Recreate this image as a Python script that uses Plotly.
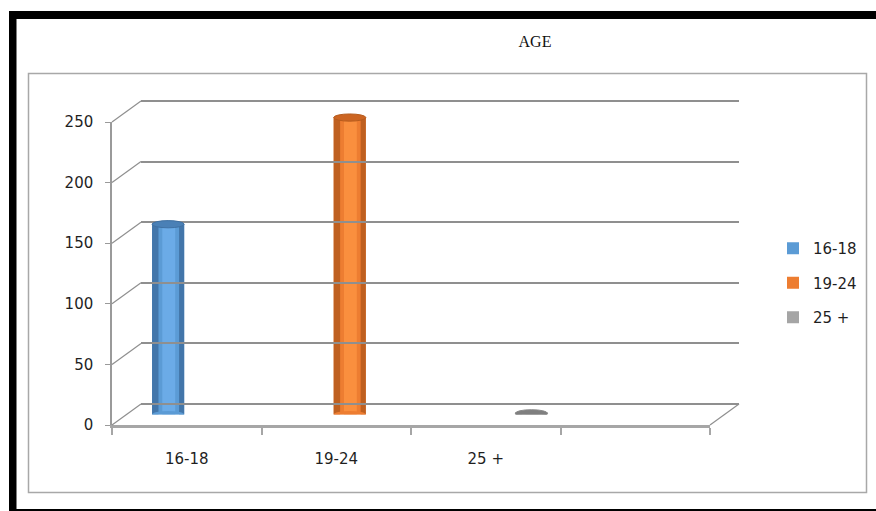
import plotly.graph_objects as go

# ---------------- data ----------------
categories = ["16-18", "19-24", "25 +"]
values = [157, 245, 1]
slot_labels = categories + [" "]          # Excel axis has one empty 4th slot
y_ticks = [0, 50, 100, 150, 200, 250]
title_text = "AGE"

bar_colors = ["#5b9bd5", "#ed7d31", "#a5a5a5"]
light_colors = ["#6eaeea", "#fb9241", "#b5b5b5"]
edge_colors = ["#3f70a2", "#b65b1d", "#8a8a8a"]
cap_colors = ["#4a80b6", "#cc6522", "#7f7f7f"]

# ---------------- geometry (pixels) ----------------
W, H = 876, 511
YMAX = 250
# front plane
X0f, X1f, Y0f, Y1f = 112, 710, 425, 122
# back wall (depth shift)
DX, DY = 29, -21
X0b, X1b, Y0b, Y1b = X0f + DX, X1f + DX, Y0f + DY, Y1f + DY
# mid plane where cylinders stand
X0m, X1m, Y0m, Y1m = X0f + DX / 2 - 1, X1f + DX / 2 - 1, Y0f + DY / 2, Y1f + DY / 2


def px(x):
    return x / W


def py(y):
    return 1 - y / H


def ymap(y0, y1):
    return lambda v: y0 - v * (y0 - y1) / YMAX


yf, yb, ym = ymap(Y0f, Y1f), ymap(Y0b, Y1b), ymap(Y0m, Y1m)
RB = [-2, YMAX + 2]   # back range padded so edge gridlines draw

fig = go.Figure()

# invisible helper trace to register the four category slots on the front axis
fig.add_trace(go.Scatter(x=slot_labels, y=[None] * len(slot_labels), mode="markers",
                         xaxis="x", yaxis="y", showlegend=False, hoverinfo="skip"))
# helper for the back wall axes
fig.add_trace(go.Scatter(x=[0, 1], y=[None, None], mode="markers", xaxis="x3", yaxis="y3",
                         showlegend=False, hoverinfo="skip"))

# each series occupies its own sub-slot of the cluster (Excel clustered layout)
SLOT = 0.645                      # fraction of a category slot used by the cluster
sub = SLOT / len(categories)
for i, (c, v) in enumerate(zip(categories, values)):
    off = -SLOT / 2 + i * sub
    fig.add_trace(go.Bar(
        x=[c], y=[v], name=c, xaxis="x2", yaxis="y2",
        width=sub, offset=off,
        marker=dict(color=bar_colors[i], line=dict(width=0)),
        legendgroup=c,
    ))
    # cylinder shading: darker rims and a light highlight band
    for w_frac, o_frac, col in [(0.2, 0.0, edge_colors[i]), (0.16, 0.84, edge_colors[i]),
                                (0.4, 0.32, light_colors[i])]:
        fig.add_trace(go.Bar(
            x=[c], y=[v], xaxis="x2", yaxis="y2", showlegend=False, hoverinfo="skip",
            width=sub * w_frac, offset=off + sub * o_frac,
            marker=dict(color=col, line=dict(width=0), opacity=0.85),
            legendgroup=c,
        ))

fig.update_layout(barmode="overlay")

# cylinder caps (ellipses) computed from the data values
cap_h = 3.6 * YMAX / (Y0m - Y1m)
shapes = []
for i, (c, v) in enumerate(zip(categories, values)):
    x0 = i - SLOT / 2 + i * sub
    x1 = x0 + sub
    shapes.append(dict(type="circle", xref="x2", yref="y2", x0=x0, x1=x1,
                       y0=-cap_h, y1=cap_h, fillcolor=bar_colors[i],
                       line=dict(width=0)))
    shapes.append(dict(type="circle", xref="x2", yref="y2", x0=x0, x1=x1,
                       y0=v - cap_h, y1=v + cap_h, fillcolor=cap_colors[i],
                       line=dict(width=1, color=edge_colors[i])))

GRID = "#8f8f8f"
# depth diagonals from front axis ticks to the back wall gridlines
for v in y_ticks:
    shapes.append(dict(type="line", xref="paper", yref="paper",
                       x0=px(X0f), y0=py(yf(v)), x1=px(X0b), y1=py(yb(v)),
                       line=dict(color=GRID, width=1.2)))
# floor right edge
shapes.append(dict(type="line", xref="paper", yref="paper",
                   x0=px(X1f), y0=py(yf(0)), x1=px(X1b), y1=py(yb(0)),
                   line=dict(color=GRID, width=1.2)))

# outer frame (scanned border) and inner chart-area box
shapes += [
    dict(type="rect", xref="paper", yref="paper", x0=px(9), x1=px(W + 5), y0=py(19), y1=py(11),
         fillcolor="black", line=dict(width=0)),
    dict(type="rect", xref="paper", yref="paper", x0=px(9), x1=px(16.5), y0=py(H + 5), y1=py(11),
         fillcolor="black", line=dict(width=0)),
    dict(type="rect", xref="paper", yref="paper", x0=px(9), x1=px(W + 5), y0=py(H + 5), y1=py(509),
         fillcolor="black", line=dict(width=0)),
    dict(type="rect", xref="paper", yref="paper", x0=px(28.5), x1=px(866.5), y0=py(492.5), y1=py(73.5),
         fillcolor="rgba(0,0,0,0)", line=dict(color="#a8a8a8", width=1.5)),
]

fig.update_layout(
    width=W, height=H,
    margin=dict(l=0, r=0, t=0, b=0, pad=0, autoexpand=False),
    paper_bgcolor="white", plot_bgcolor="rgba(0,0,0,0)",
    shapes=shapes,
    title=dict(text=title_text, x=px(535), y=py(41), xref="paper", yref="paper",
               xanchor="center", yanchor="middle", automargin=False,
               font=dict(family="Liberation Serif", size=16, color="#111111")),
    font=dict(family="DejaVu Sans", color="#1f1f1f"),
    showlegend=True,
    legend=dict(x=px(773), y=py(283), xanchor="left", yanchor="middle",
                font=dict(family="DejaVu Sans", size=15, color="#1f1f1f"),
                bgcolor="rgba(0,0,0,0)", traceorder="grouped", tracegroupgap=12,
                itemwidth=30),
    # front plane: category labels + value axis
    xaxis=dict(domain=[px(X0f), px(X1f)], type="category", categoryorder="array",
               categoryarray=slot_labels, range=[-0.5, len(slot_labels) - 0.5],
               anchor="y", tickson="boundaries", ticks="outside", ticklen=7,
               tickcolor="#a6a6a6", tickwidth=1.5, showline=True, linecolor="#a6a6a6",
               linewidth=3, showgrid=False, zeroline=False, ticklabelstandoff=18,
               automargin=False,
               tickfont=dict(family="DejaVu Sans", size=15, color="#1f1f1f"), fixedrange=True),
    yaxis=dict(domain=[py(Y0f), py(Y1f)], range=[0, YMAX], anchor="x", tickvals=y_ticks,
               ticks="outside", ticklen=5, tickcolor="#9a9a9a", tickwidth=1.2,
               showline=True, linecolor="#9a9a9a", linewidth=1.5, showgrid=False,
               zeroline=False, ticklabelstandoff=9, automargin=False,
               tickfont=dict(family="DejaVu Sans", size=15, color="#1f1f1f"), fixedrange=True),
    # mid plane: cylinders
    xaxis2=dict(domain=[px(X0m), px(X1m)], type="category", categoryorder="array",
                categoryarray=slot_labels, range=[-0.5, len(slot_labels) - 0.5],
                anchor="y2", visible=False, fixedrange=True, automargin=False),
    yaxis2=dict(domain=[py(Y0m), py(Y1m)], range=[0, YMAX], anchor="x2",
                visible=False, fixedrange=True, automargin=False),
    # back wall: gridlines
    xaxis3=dict(domain=[px(X0b), px(X1b)], range=[0, 1], anchor="y3", showgrid=False,
                showticklabels=False, zeroline=False, showline=False, ticks="",
                fixedrange=True, automargin=False),
    yaxis3=dict(domain=[py(yb(RB[0])), py(yb(RB[1]))], range=RB, anchor="x3", tickvals=y_ticks,
                showgrid=True, gridcolor=GRID, gridwidth=1.5, showticklabels=False,
                zeroline=False, showline=False, ticks="", fixedrange=True, automargin=False),
)

fig.write_html("out.html")
